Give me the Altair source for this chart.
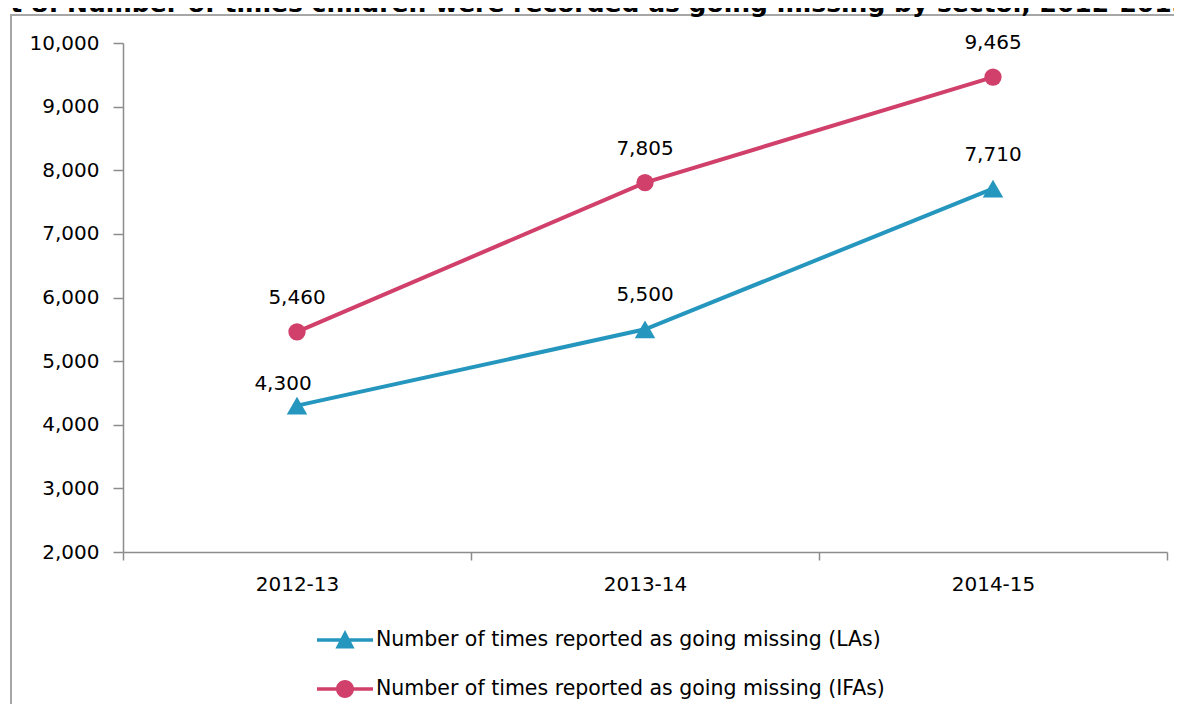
import altair as alt
import pandas as pd

# ---- data ----
years = ["2012-13", "2013-14", "2014-15"]
las_values = [4300, 5500, 7710]
ifa_values = [5460, 7805, 9465]
series_names = [
    "Number of times reported as going missing (LAs)",
    "Number of times reported as going missing (IFAs)",
]
y_ticks = [2000, 3000, 4000, 5000, 6000, 7000, 8000, 9000, 10000]
title_text = "Chart 8: Number of times children were recorded as going missing by sector, 2012-2015"

rows = []
for yr, v in zip(years, las_values):
    rows.append({"year": yr, "value": v, "series": series_names[0]})
for yr, v in zip(years, ifa_values):
    rows.append({"year": yr, "value": v, "series": series_names[1]})
df = pd.DataFrame(rows)

W, H = 1044, 509
colors = ["#2596BE", "#D1406B"]
FONT = "DejaVu Sans"

x_enc = alt.X(
    "year:N",
    sort=years,
    scale=alt.Scale(type="band", domain=years, paddingInner=0, paddingOuter=0),
    axis=alt.Axis(
        title=None, labelAngle=0, tickBand="extent", tickSize=8, labelPadding=14,
        labelFont=FONT, labelFontSize=20, labelColor="#000000",
        domainColor="#8C8C8C", tickColor="#8C8C8C", domainWidth=1.5, tickWidth=1.5,
        grid=False,
    ),
)
y_enc = alt.Y(
    "value:Q",
    scale=alt.Scale(domain=[2000, 10000], nice=False, zero=False),
    axis=alt.Axis(
        title=None, values=y_ticks, format=",d", tickSize=10, labelPadding=14,
        labelFont=FONT, labelFontSize=20, labelColor="#000000",
        domainColor="#8C8C8C", tickColor="#8C8C8C", domainWidth=1.5, tickWidth=1.5,
        grid=False,
    ),
)

# legend symbols: line segment + marker, as custom paths (unit = sqrt(size)/2 px)
path_las = "M-1.4,-0.09L1.4,-0.09L1.4,0.09L-1.4,0.09ZM-0.48,0.42L0,-0.5L0.48,0.42Z"
path_ifa = ("M-1.4,-0.09L1.4,-0.09L1.4,0.09L-1.4,0.09Z"
            "M-0.45,0A0.45,0.45,0,1,1,0.45,0A0.45,0.45,0,1,1,-0.45,0Z")

legend = alt.Legend(
    title=None, orient="none", legendX=202, legendY=577, direction="vertical",
    symbolSize=1600, symbolStrokeWidth=0, symbolOpacity=1, labelFont=FONT, labelFontSize=20.5,
    labelColor="#000000", labelOffset=11, rowPadding=18, padding=0, labelLimit=800,
)

color_scale = alt.Scale(domain=series_names, range=colors)

base = alt.Chart(df)

lines = base.mark_line(strokeWidth=4).encode(
    x=x_enc, y=y_enc, color=alt.Color("series:N", scale=color_scale, legend=None)
)

tri = base.mark_point(filled=True, opacity=1, shape="triangle-up", size=420).encode(
    x=x_enc, y=y_enc, color=alt.Color("series:N", scale=color_scale, legend=None)
).transform_filter(alt.datum.series == series_names[0])

circ = base.mark_point(filled=True, opacity=1, shape="circle", size=300).encode(
    x=x_enc, y=y_enc, color=alt.Color("series:N", scale=color_scale, legend=None)
).transform_filter(alt.datum.series == series_names[1])

# layer that only carries the legend (its points sit far outside the view)
legend_layer = base.mark_point(filled=True, opacity=1).encode(
    x=x_enc, y=alt.value(-3000),
    color=alt.Color("series:N", scale=color_scale, legend=legend),
    shape=alt.Shape("series:N", scale=alt.Scale(domain=series_names, range=[path_las, path_ifa]), legend=legend),
)

special = (alt.datum.series == series_names[0]) & (alt.datum.year == years[0])
labels = base.mark_text(font=FONT, fontSize=20, color="#000000", baseline="middle", dy=-34).encode(
    x=x_enc, y=y_enc, text=alt.Text("value:Q", format=",")
).transform_filter(~special)

labels_special = base.mark_text(font=FONT, fontSize=20, color="#000000", baseline="middle", dx=-14, dy=-22).encode(
    x=x_enc, y=y_enc, text=alt.Text("value:Q", format=",")
).transform_filter(special)

frame = alt.Chart(pd.DataFrame({"a": [0]})).mark_rect(filled=False, stroke="#A6A6A6", strokeWidth=2).encode(
    x=alt.value(-112), x2=alt.value(W + 300), y=alt.value(-28), y2=alt.value(H + 400)
)

title = alt.Chart(pd.DataFrame({"t": [title_text]})).mark_text(
    align="left", baseline="alphabetic", font=FONT, fontWeight="bold", fontSize=25, color="#000000"
).encode(x=alt.value(-178), y=alt.value(-31), text="t:N")

chart = alt.layer(frame, lines, tri, circ, legend_layer, labels, labels_special, title).properties(
    width=W, height=H,
    autosize=alt.AutoSizeParams(type="none"),
    padding={"left": 115, "top": 35, "right": 7, "bottom": 152},
).resolve_legend(color="independent", shape="independent").configure_view(stroke=None)

chart.save("out.html", embed_options={"renderer": "svg", "actions": False})
